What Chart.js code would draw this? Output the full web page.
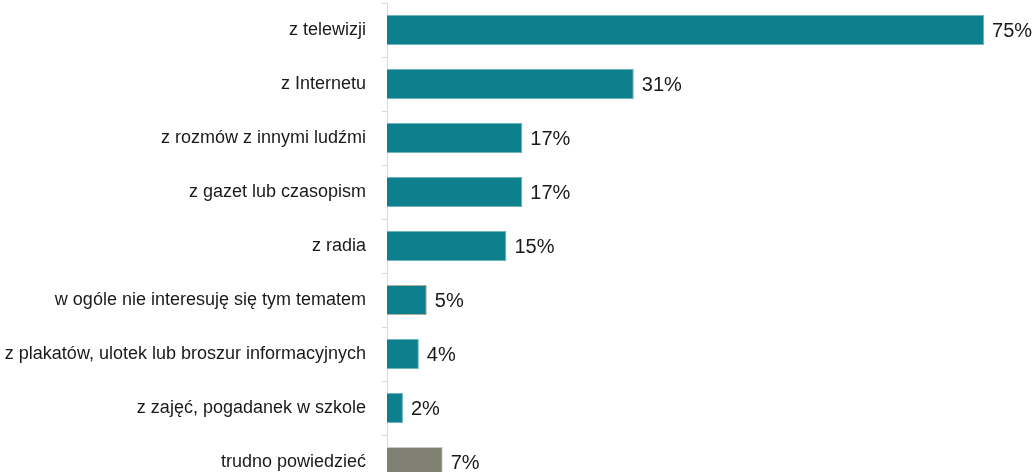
<!DOCTYPE html>
<html><head><meta charset="utf-8">
<script src="https://cdn.jsdelivr.net/npm/chart.js@4.4.0/dist/chart.umd.min.js"></script>
<style>
html,body{margin:0;padding:0;background:#fff;overflow:hidden;}
#wrap{position:relative;width:1035px;height:500px;}
</style></head>
<body>
<div id="wrap"><canvas id="c" width="1035" height="500"></canvas></div>
<script>
const categories = [
  "z telewizji",
  "z Internetu",
  "z rozmów z innymi ludźmi",
  "z gazet lub czasopism",
  "z radia",
  "w ogóle nie interesuję się tym tematem",
  "z plakatów, ulotek lub broszur informacyjnych",
  "z zajęć, pogadanek w szkole",
  "trudno powiedzieć"
];
const values = [75, 31, 17, 17, 15, 5, 4, 2, 7];
const valueLabels = ["75%", "31%", "17%", "17%", "15%", "5%", "4%", "2%", "7%"];

const TEAL = "#0e7f8c";
const GRAY = "#7f7f72";
const barColors = values.map((v, i) => i === values.length - 1 ? GRAY : TEAL);
const borderColors = values.map((v, i) => i === values.length - 1 ? "#c9c9c0" : (i === 5 ? "#b0ad9f" : "#6fb3ba"));

const valueLabelPlugin = {
  id: "valueLabels",
  afterDatasetsDraw(chart) {
    const ctx = chart.ctx;
    const meta = chart.getDatasetMeta(0);
    ctx.save();
    ctx.font = "20px 'Liberation Sans', Arial, sans-serif";
    ctx.fillStyle = "#1a1a1a";
    ctx.textAlign = "left";
    ctx.textBaseline = "middle";
    meta.data.forEach((bar, i) => {
      ctx.fillText(valueLabels[i], bar.x + 8, bar.y + 1);
    });
    ctx.restore();
  }
};

new Chart(document.getElementById("c"), {
  type: "bar",
  data: {
    labels: categories,
    datasets: [{
      data: values,
      backgroundColor: barColors,
      borderColor: borderColors,
      borderWidth: 1,
      barPercentage: 0.556,
      categoryPercentage: 1.0
    }]
  },
  options: {
    indexAxis: "y",
    responsive: false,
    animation: false,
    layout: { padding: { top: 3, bottom: 11, left: 0, right: 0 } },
    plugins: { legend: { display: false }, tooltip: { enabled: false } },
    scales: {
      x: {
        display: false,
        min: 0,
        max: 81.4
      },
      y: {
        afterFit(scale) { scale.width = 387; scale.paddingTop = 0; scale.paddingBottom = 0; },
        grid: {
          drawOnChartArea: false,
          drawTicks: true,
          tickLength: 5,
          color: "#d9d9d9",
          offset: true
        },
        border: { display: true, color: "#d9d9d9", width: 1 },
        ticks: {
          color: "#1a1a1a",
          padding: 16,
          font: { family: "'Liberation Sans', Arial, sans-serif", size: 18 }
        }
      }
    }
  },
  plugins: [valueLabelPlugin]
});
</script>
</body></html>
